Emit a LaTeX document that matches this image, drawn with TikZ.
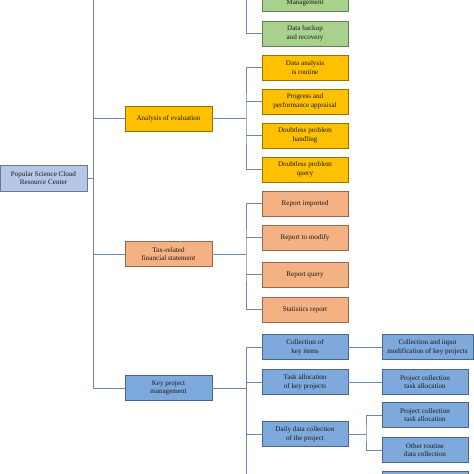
\documentclass[tikz,border=0pt]{standalone}
\usepackage{fontspec}
\setmainfont{Liberation Serif}
\begin{document}
\begin{tikzpicture}[x=1pt,y=-1pt,
  box/.style={draw=#1!60!black, fill=#1, line width=0.8pt, minimum width=86pt, minimum height=25pt,
    inner sep=1pt, align=center, font=\fontsize{7.1}{8.8}\selectfont, text=black!90},
  wire/.style={draw=wirec, line width=0.8pt},
]
\definecolor{wirec}{HTML}{6C87B0}
\definecolor{gbox}{HTML}{A9D18E}
\definecolor{ybox}{HTML}{FFC000}
\definecolor{sbox}{HTML}{F4B183}
\definecolor{rbox}{HTML}{B4C7E7}
\definecolor{kbox}{HTML}{7EA9DC}
\useasboundingbox (0,0) rectangle (474,474);
\clip (0,0) rectangle (474,474);
\fill[white] (0,0) rectangle (474,474);

% trunk and bus coordinates
\coordinate (trunktop) at (93,0);
\coordinate (busx) at (246,0);
\coordinate (busbot) at (246,474);
\coordinate (busd) at (366,0);

% root
\node[box=rbox, minimum width=87pt, minimum height=26pt] (root) at (43.5,178) {Popular Science Cloud\\Resource Center};

% level 1
\node[box=ybox, minimum width=87pt] (ana) at (168.5,118.5) {Analysis of evaluation};
\node[box=sbox, minimum width=87pt] (tax) at (168.5,254) {Tax-related\\financial statement};
\node[box=kbox, minimum width=87pt] (kpm) at (168.5,388) {Key project\\management};

% green group
\node[box=gbox] (mgmt) at (305,-1) {\phantom{X}\\Management};
\node[box=gbox] (backup) at (305,33.5) {Data backup\\and recovery};

% yellow group
\node[box=ybox] (y1) at (305,67.5) {Data analysis\\is routine};
\node[box=ybox] (y2) at (305,101.5) {Progress and\\performance appraisal};
\node[box=ybox] (y3) at (305,135.5) {Doubtless problem\\handling};
\node[box=ybox] (y4) at (305,169.5) {Doubtless problem\\query};

% salmon group
\node[box=sbox] (s1) at (305,203.5) {Report imported};
\node[box=sbox] (s2) at (305,237.5) {Report to modify};
\node[box=sbox] (s3) at (305,274.5) {Report query};
\node[box=sbox] (s4) at (305,309.5) {Statistics report};

% blue group
\node[box=kbox] (k1) at (305,347) {Collection of\\key items};
\node[box=kbox] (k2) at (305,382) {Task allocation\\of key projects};
\node[box=kbox] (k3) at (305,434) {Daily data collection\\of the project};

% level 3
\node[box=kbox, minimum width=91pt] (c1) at (427.5,347) {Collection and input\\modification of key projects};
\node[box=kbox] (c2) at (425,382) {Project collection\\task allocation};
\node[box=kbox] (c3) at (425,415) {Project collection\\task allocation};
\node[box=kbox] (c4) at (425,450) {Other routine\\data collection};
\node[box=kbox] (c5) at (425,484) {};

% trunk
\draw[wire] (kpm.west) -| (trunktop);
\draw[wire] (root.east) -- (root.east -| trunktop);
\draw[wire] (ana.west) -- (ana.west -| trunktop);
\draw[wire] (tax.west) -- (tax.west -| trunktop);

% green bus
\draw[wire] (backup.west) -| (busx);
\draw[wire] (mgmt.west) -- (mgmt.west -| busx);

% yellow bus
\draw[wire] (y1.west) -| (ana.east -| busx) |- (y4.west);
\draw[wire] (y2.west) -- (y2.west -| busx);
\draw[wire] (y3.west) -- (y3.west -| busx);
\draw[wire] (ana.east) -- (ana.east -| busx);

% salmon bus
\draw[wire] (s1.west) -| (tax.east -| busx) |- (s4.west);
\draw[wire] (s2.west) -- (s2.west -| busx);
\draw[wire] (s3.west) -- (s3.west -| busx);
\draw[wire] (tax.east) -- (tax.east -| busx);

% blue bus
\draw[wire] (k1.west) -| (busbot);
\draw[wire] (k2.west) -- (k2.west -| busx);
\draw[wire] (k3.west) -- (k3.west -| busx);
\draw[wire] (kpm.east) -- (kpm.east -| busx);

% level 3 connectors
\draw[wire] (k1.east) -- (c1.west);
\draw[wire] (k2.east) -- (c2.west);
\draw[wire] (c3.west) -| (k3.east -| busd) |- (c4.west);
\draw[wire] (k3.east) -- (k3.east -| busd);
\end{tikzpicture}
\end{document}
